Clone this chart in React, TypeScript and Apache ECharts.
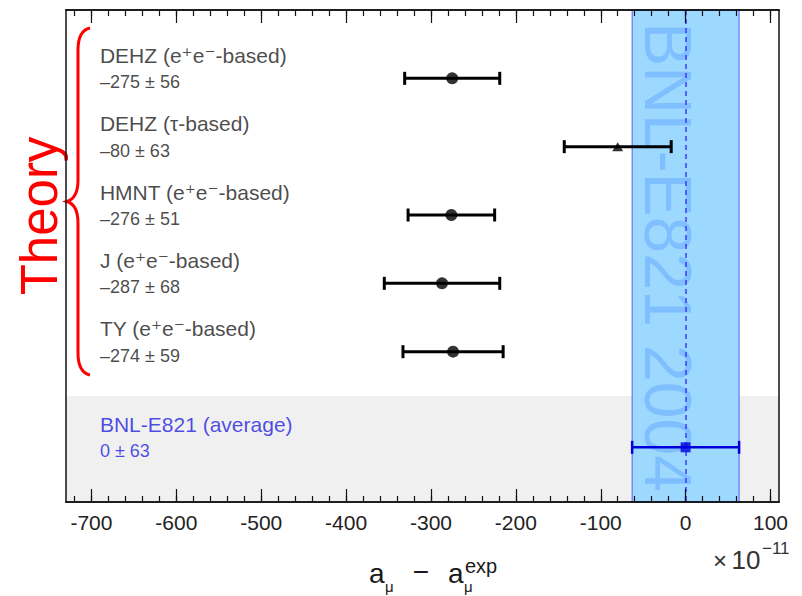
import React, { useEffect, useRef } from "react";
import * as echarts from "echarts";

// ---- data ----
const names = [
  "DEHZ (e\u207Ae\u207B-based)",
  "DEHZ (\u03C4-based)",
  "HMNT (e\u207Ae\u207B-based)",
  "J (e\u207Ae\u207B-based)",
  "TY (e\u207Ae\u207B-based)",
  "BNL-E821 (average)",
];
const centers = [-275, -80, -276, -287, -274, 0];
const errors = [56, 63, 51, 68, 59, 63];
const rows = [1, 2, 3, 4, 5, 6.4];
const symbols = ["circle", "triangle", "circle", "circle", "circle", "rect"];
const majorTicks = [-700, -600, -500, -400, -300, -200, -100, 0, 100];
const xMin = -730;
const xMax = 110;
const yMin = 0;
const yMax = 7.2;
const expBand = [-63, 63];
const greyFrom = 5.65;
const labelX = -690;

const minorTicks: number[] = [];
for (let v = -720; v <= 100; v += 20) minorTicks.push(v);

const FONT = "'Liberation Sans', Arial, Helvetica, 'DejaVu Sans', sans-serif";
const BLUE = "#0000dd";
const TXT = "#1a1a1a";
const TXT_BLUE = "#1f1fe0";

function fmtVal(c: number, e: number) {
  return `${c < 0 ? "\u2013" : ""}${Math.abs(c)} \u00B1 ${e}`;
}

const bracePath =
  "M 90 28 C 81 30 78 38 78 50 L 78 180 C 78 192 75 199 67 201.5 C 75 204 78 211 78 223 L 78 353 C 78 365 81 373 90 375";

export default function App() {
  const ref = useRef<HTMLDivElement>(null);
  useEffect(() => {
    if (!ref.current) return;
    try {
      echarts.graphic.registerShape("brace", echarts.graphic.extendPath(bracePath, {}) as any);
    } catch (e) {}
    const chart = echarts.init(ref.current, null, { renderer: "svg" });

    const baseAxis = (pos: "top" | "bottom", ticks: number[], len: number, labels: boolean) => ({
      type: "value",
      position: pos,
      min: xMin,
      max: xMax,
      z: 10,
      splitLine: { show: false },
      axisLine: { show: true, onZero: false, lineStyle: { color: "#111", width: 1.5 } },
      axisTick: {
        show: true,
        inside: true,
        length: len,
        customValues: ticks,
        lineStyle: { color: "#111", width: 1.2 },
      },
      axisLabel: labels
        ? { show: true, customValues: majorTicks, fontSize: 21, color: "#222", margin: 10, fontFamily: FONT }
        : { show: false },
    });

    const labelData = names.map((n, i) => {
      const col = i === 5 ? TXT_BLUE : TXT;
      return {
        value: [labelX, rows[i]],
        label: {
          formatter: `{n|${n}}\n{v|${fmtVal(centers[i], errors[i])}}`,
          color: col,
          rich: {
            n: { fontSize: 21, lineHeight: 27, fontFamily: FONT, color: col },
            v: { fontSize: 18, lineHeight: 27, fontFamily: FONT, color: col },
          },
        },
      };
    });

    const txt = (text: string, x: number, y: number, fontSize: number, extra: any = {}) => ({
      type: "text",
      x,
      y,
      style: { text, fontSize, fontFamily: FONT, fill: TXT, verticalAlign: "middle", ...extra },
    });

    const option: any = {
      animation: false,
      backgroundColor: "#fff",
      grid: { left: 66, top: 10, right: 23, bottom: 94, containLabel: false },
      xAxis: [
        baseAxis("bottom", majorTicks, 13, true),
        baseAxis("bottom", minorTicks, 6, false),
        baseAxis("top", majorTicks, 13, false),
        baseAxis("top", minorTicks, 6, false),
      ],
      yAxis: [
        {
          type: "value",
          min: yMin,
          max: yMax,
          inverse: true,
          position: "left",
          z: 10,
          splitLine: { show: false },
          axisTick: { show: false },
          axisLabel: { show: false },
          axisLine: { show: true, onZero: false, lineStyle: { color: "#111", width: 1.5 } },
        },
        {
          type: "value",
          min: yMin,
          max: yMax,
          inverse: true,
          position: "right",
          z: 10,
          splitLine: { show: false },
          axisTick: { show: false },
          axisLabel: { show: false },
          axisLine: { show: true, onZero: false, lineStyle: { color: "#111", width: 1.5 } },
        },
      ],
      graphic: [
        {
          type: "text",
          z: 3,
          x: 668,
          y: 257,
          rotation: -Math.PI / 2,
          style: {
            text: "BNL-E821 2004",
            fontSize: 66,
            fontFamily: FONT,
            fill: "#80bfff",
            align: "center",
            verticalAlign: "middle",
          },
        },
        {
          type: "text",
          x: 39,
          y: 216,
          rotation: Math.PI / 2,
          style: {
            text: "Theory",
            fontSize: 51,
            fontFamily: FONT,
            fill: "#ff0000",
            align: "center",
            verticalAlign: "middle",
          },
        },
        {
          type: "brace",
          x: 0,
          y: 0,
          style: { stroke: "#ff0000", fill: "none", lineWidth: 3 },
        },
        txt("a", 369, 573, 28),
        txt("\u03BC", 385, 586, 15),
        txt("\u2212", 421, 571, 28, { align: "center" }),
        txt("a", 448, 573, 28),
        txt("\u03BC", 464, 586, 15),
        txt("exp", 465, 566, 20),
        txt("\u00D7", 720, 560, 24, { align: "center", fill: "#333" }),
        txt("10", 746, 560, 26, { align: "center", fill: "#333" }),
        txt("\u221211", 762, 548, 17, { fill: "#333" }),
      ],
      series: [
        {
          type: "scatter",
          z: 1,
          data: [],
          silent: true,
          markArea: {
            silent: true,
            itemStyle: { color: "#f0f0f0" },
            data: [[{ yAxis: greyFrom }, { yAxis: yMax }]],
          },
        },
        {
          type: "scatter",
          z: 2,
          data: [],
          silent: true,
          markArea: {
            silent: true,
            itemStyle: { color: "#9dd8ff", borderColor: "#5a5aff", borderWidth: 1 },
            data: [[{ xAxis: expBand[0] }, { xAxis: expBand[1] }]],
          },
          markLine: {
            silent: true,
            symbol: ["none", "none"],
            label: { show: false },
            lineStyle: { color: "#3a3aff", type: [5, 4], width: 1.5 },
            data: [{ xAxis: 0 }],
          },
        },
        {
          type: "custom",
          z: 5,
          encode: { x: [0, 1, 2], y: 3 },
          data: centers.map((c, i) => [c, c - errors[i], c + errors[i], rows[i]]),
          renderItem: (params: any, api: any) => {
            const lo = api.coord([api.value(1), api.value(3)]);
            const hi = api.coord([api.value(2), api.value(3)]);
            const color = params.dataIndex === 5 ? BLUE : "#000";
            const lw = params.dataIndex === 5 ? 2.5 : 3;
            const st = { stroke: color, lineWidth: lw };
            const h = 6.5;
            return {
              type: "group",
              children: [
                { type: "line", shape: { x1: lo[0], y1: lo[1], x2: hi[0], y2: hi[1] }, style: st },
                { type: "line", shape: { x1: lo[0], y1: lo[1] - h, x2: lo[0], y2: lo[1] + h }, style: st },
                { type: "line", shape: { x1: hi[0], y1: hi[1] - h, x2: hi[0], y2: hi[1] + h }, style: st },
              ],
            };
          },
        },
        {
          type: "scatter",
          z: 6,
          data: centers.map((c, i) => ({
            value: [c, rows[i]],
            symbol: symbols[i],
            symbolSize: symbols[i] === "triangle" ? [11, 9] : symbols[i] === "rect" ? 10 : 12,
            itemStyle: { color: i === 5 ? BLUE : "#000" },
          })),
        },
        {
          type: "scatter",
          z: 6,
          symbolSize: 0,
          silent: true,
          label: { show: true, position: "right", distance: 0, offset: [0, -9.5] },
          data: labelData,
        },
      ],
    };
    chart.setOption(option);
    return () => chart.dispose();
  }, []);
  return (
    <div
      ref={ref}
      style={{ position: "fixed", left: 0, top: 0, width: 802, height: 596, background: "#fff" }}
    />
  );
}
